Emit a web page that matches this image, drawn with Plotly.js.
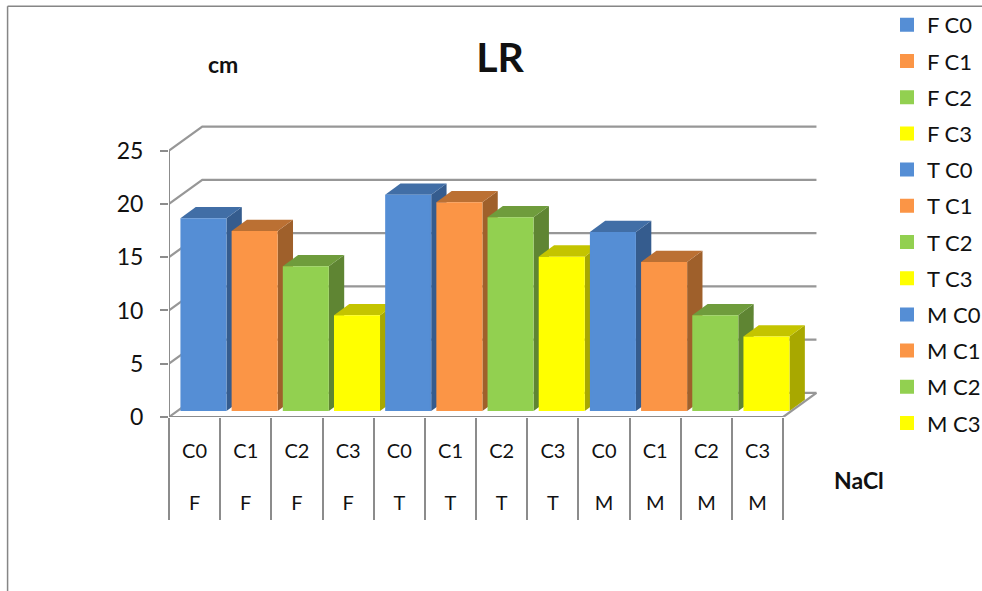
<!DOCTYPE html>
<html>
<head>
<meta charset="utf-8">
<script src="https://cdn.plot.ly/plotly-3.0.1.min.js"></script>
<style>html,body{margin:0;padding:0;background:#fff;overflow:hidden}</style>
</head>
<body>
<div id="chart" style="width:982px;height:591px"></div>
<script>
// LR root length by species and NaCl level
const species = ['F','F','F','F','T','T','T','T','M','M','M','M'];
const levels  = ['C0','C1','C2','C3','C0','C1','C2','C3','C0','C1','C2','C3'];
const lengths = [17.9,16.7,13.4,8.8,20.1,19.4,18.0,14.3,16.6,13.8,8.8,6.8];
const yTicks  = [0,5,10,15,20,25];

const frontColors = ['#558ed5','#fb9546','#92d050','#ffff00'];
const topColors   = ['#416ea6','#bb7033','#6f9c3c','#c4c400'];
const sideColors  = ['#355c8e','#9f602b','#5f8533','#a8a800'];

// Pseudo-3D projection, in axis units
const wallDx = 0.65, wallDy = 2.26;     // depth of the floor and back wall
const barDx = 0.30, barDy = 1.06;       // depth of each column
const barInset = 0.673, barBase = 0.564;
const barWidth = 0.86, outlineX = 0.02, outlineY = 0.094;
const xMax = 12.68, yMax = 27.5;

const traces = [];

// Back wall and floor lines
const wallX = [], wallY = [];
yTicks.forEach(v => {
  wallX.push(0, wallDx, 12 + wallDx, null);
  wallY.push(v, v + wallDy, v + wallDy, null);
});
wallX.push(12, 12 + wallDx);
wallY.push(0, wallDy);
traces.push({type:'scatter', mode:'lines', x:wallX, y:wallY, cliponaxis:false,
  line:{color:'#979797', width:2.2}, showlegend:false, hoverinfo:'skip'});

// Side and top faces sit below the front faces
lengths.forEach((v, i) => {
  const c = i % 4;
  const mid = i + barInset;
  const xl = mid - barWidth / 2 - outlineX, xr = mid + barWidth / 2 + outlineX;
  const b = barBase, t = barBase + v + 2 * outlineY;
  traces.push({type:'scatter', mode:'lines', fill:'toself', fillcolor:sideColors[c],
    x:[xr, xr + barDx, xr + barDx, xr, xr], y:[b, b + barDy, t + barDy, t, b],
    line:{width:0, color:sideColors[c]}, showlegend:false, hoverinfo:'skip'});
  traces.push({type:'scatter', mode:'lines', fill:'toself', fillcolor:topColors[c],
    x:[xl, xr, xr + barDx, xl + barDx, xl], y:[t, t, t + barDy, t + barDy, t],
    line:{width:0, color:topColors[c]}, showlegend:false, hoverinfo:'skip'});
});

// Front faces, one trace per column so each has its own legend row
lengths.forEach((v, i) => {
  const c = i % 4;
  const name = species[i] + ' ' + levels[i];
  traces.push({type:'bar', xaxis:'x2', yaxis:'y2', name:name, legendgroup:name,
    x:[i + barInset], y:[v], base:[barBase + outlineY], width:[barWidth],
    marker:{color:frontColors[c], line:{color:frontColors[c], width:2}}});
});

const labelFont = 'Lato, "Open Sans", sans-serif';
const grey = '#8c8c8c';
const pxW = 648.5;
const pxH = 292.6;

const layout = {
  width:982, height:591,
  margin:{l:169.3, r:982-169.3-pxW, t:124, b:591-124-pxH, pad:0},
  paper_bgcolor:'#fff', plot_bgcolor:'rgba(0,0,0,0)',
  barmode:'overlay', showlegend:true, hovermode:false,
  font:{family:labelFont, color:'#111', size:20},
  title:{text:'<b>LR</b>', x:500/982, xanchor:'center', y:1-58/591, yanchor:'middle',
    font:{family:labelFont, size:41, color:'#111'}},
  xaxis:{range:[0,xMax], showgrid:false, zeroline:false, showline:false, fixedrange:true,
    tickmode:'array',
    tickvals:levels.map((_, i) => i + 0.5),
    ticktext:levels.map((l, i) => l + '<br><br>' + species[i]),
    ticks:'', ticklabelstandoff:20,
    minor:{tickmode:'array', tickvals:Array.from({length:13}, (_, i) => i),
      ticks:'outside', ticklen:102, tickwidth:2, tickcolor:grey, showgrid:false},
    tickfont:{family:labelFont, size:20, color:'#111'}},
  yaxis:{range:[0,yMax], showgrid:false, zeroline:false, showline:false, fixedrange:true,
    tickmode:'array', tickvals:yTicks, ticks:'outside', ticklen:8, tickwidth:2, tickcolor:grey,
    ticklabelstandoff:12,
    tickfont:{family:labelFont, size:23, color:'#111'}},
  xaxis2:{overlaying:'x', range:[0,xMax], visible:false, fixedrange:true},
  yaxis2:{overlaying:'y', range:[0,yMax], visible:false, fixedrange:true},
  legend:{x:892/982, xref:'container', xanchor:'left', y:1-4/591, yref:'container', yanchor:'top',
    tracegroupgap:4.6, traceorder:'grouped', bgcolor:'rgba(0,0,0,0)', maxheight:585,
    indentation:-5,
    font:{family:labelFont, size:22, color:'#111'}},
  annotations:[
    {text:'<b>cm</b>', xref:'paper', yref:'paper', x:(223-169.3)/pxW, y:(124+pxH-64)/pxH,
      xanchor:'center', yanchor:'middle', showarrow:false, font:{size:23}},
    {text:'<b>NaCl</b>', xref:'paper', yref:'paper', x:(859-169.3)/pxW, y:(124+pxH-480)/pxH,
      xanchor:'center', yanchor:'middle', showarrow:false, font:{size:23}}
  ],
  shapes:[
    {type:'line', xref:'x', yref:'y', x0:0, x1:12, y0:0, y1:0, line:{color:grey, width:2}},
    {type:'line', xref:'x', yref:'y', x0:0, x1:0, y0:0, y1:25, line:{color:grey, width:2}},
    {type:'line', xref:'paper', yref:'paper', x0:(8-169.3)/pxW, x1:(982-169.3)/pxW,
      y0:(124+pxH-6.5)/pxH, y1:(124+pxH-6.5)/pxH, line:{color:'#868686', width:1.5}},
    {type:'line', xref:'paper', yref:'paper', x0:(8-169.3)/pxW, x1:(8-169.3)/pxW,
      y0:(124+pxH-6.5)/pxH, y1:(124+pxH-591)/pxH, line:{color:'#868686', width:1.5}}
  ]
};

Plotly.newPlot('chart', traces, layout, {displayModeBar:false, responsive:false});
</script>
</body>
</html>
